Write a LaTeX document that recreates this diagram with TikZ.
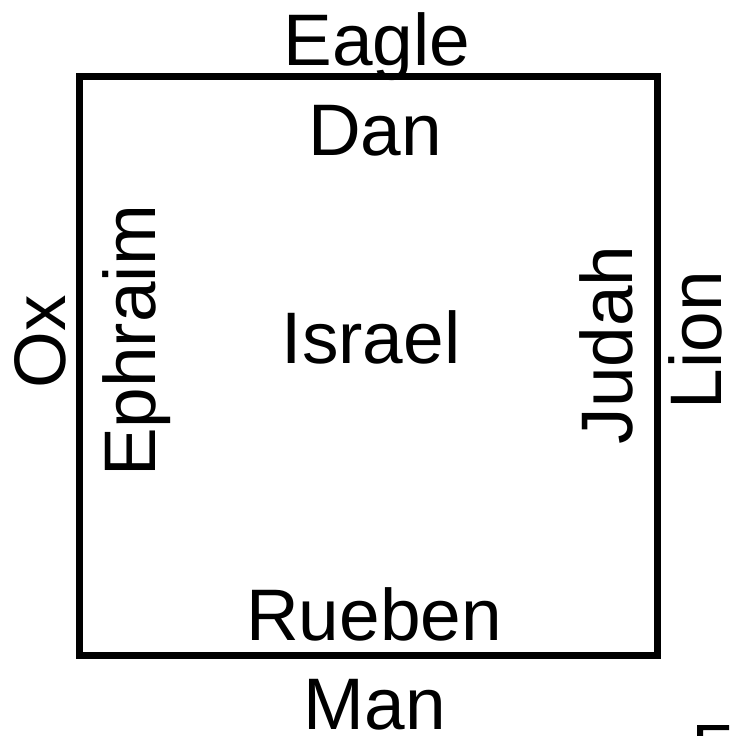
\documentclass[tikz,border=0pt]{standalone}
\usepackage{fontspec}
\setmainfont{Liberation Sans}
\begin{document}
\begin{tikzpicture}[x=1pt,y=-1pt,
  lbl/.style={inner sep=0pt,anchor=base,font=\fontsize{73}{73}\selectfont},
  vlbl/.style={lbl,rotate=90}]
\useasboundingbox (0,0) rectangle (729,736);
\draw[line width=7pt] (79,76) rectangle (657,655);
\node[lbl] (eagle) at (377,65) {Eagle};
\node[lbl] (dan) at (375,155) {Dan};
\node[lbl] (israel) at (371,363) {Israel};
\node[lbl] (rueben) at (374,640) {Rueben};
\node[lbl] (man) at (375,729) {Man};
\node[vlbl] (ox) at (65,342) {Ox};
\node[vlbl] (ephraim) at (155,341) {Ephraim};
\node[vlbl] (judah) at (632,345) {Judah};
\node[vlbl] (lion) at (721,340) {Lion};
\fill (697,725) -- (729,725) -- (729,730) -- (703,730) -- (703,736) -- (697,736) -- cycle;
\end{tikzpicture}
\end{document}
